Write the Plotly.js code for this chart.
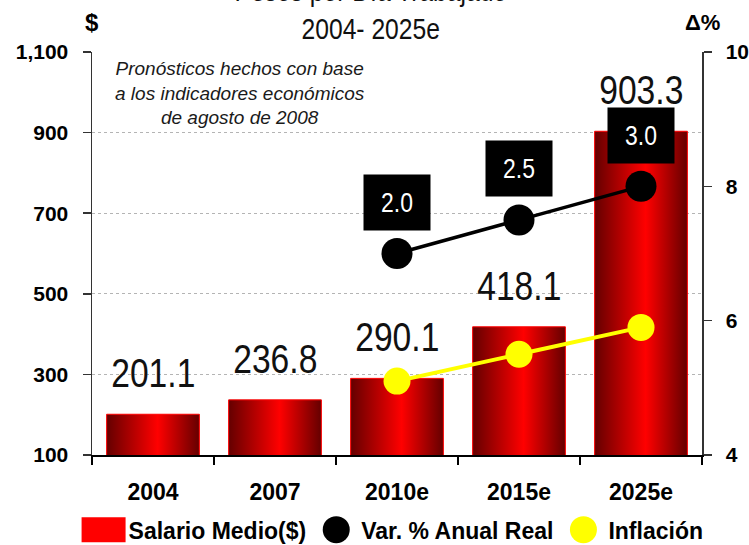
<!DOCTYPE html>
<html><head><meta charset="utf-8">
<script src="https://cdn.plot.ly/plotly-3.0.1.min.js"></script>
<style>html,body{margin:0;padding:0;background:#fff}#chart{width:749px;height:545px}</style>
</head><body><div id="chart"></div>
<script>
const categories = ['2004', '2007', '2010e', '2015e', '2025e'];
const salario = [201.1, 236.8, 290.1, 418.1, 903.3];
const salarioLabels = ['201.1', '236.8', '290.1', '418.1', '903.3'];
const varCats = ['2010e', '2015e', '2025e'];
const varPos = [7.0, 7.5, 8.0];
const varLabels = ['2.0', '2.5', '3.0'];
const inflCats = ['2010e', '2015e', '2025e'];
const inflacion = [5.1, 5.5, 5.9];
const leftTicks = [100, 300, 500, 700, 900, 1100];
const leftTickText = ['100', '300', '500', '700', '900', '1,100'];
const rightTicks = [4, 6, 8, 10];
const titleText = 'Pesos por Día Trabajado<br>2004- 2025e';
const noteText = 'Pronósticos hechos con base<br>a los indicadores económicos<br>de agosto de 2008';

const SANS = '"Liberation Sans", Arial, sans-serif';
const NARROW_SCALE = 0.82;

const traces = [
  {type: 'bar', name: 'Salario Medio($)', x: categories, y: salario, width: 0.76,
   marker: {color: '#ff0000', line: {color: '#ff0000', width: 1}}, hoverinfo: 'skip'},
  {type: 'scatter', mode: 'lines+markers', name: 'Var. % Anual Real', x: varCats, y: varPos, yaxis: 'y2',
   line: {color: '#000000', width: 3.5}, marker: {color: '#000000', size: 31}, cliponaxis: false},
  {type: 'scatter', mode: 'lines+markers', name: 'Inflación', x: inflCats, y: inflacion, yaxis: 'y2',
   line: {color: '#ffff00', width: 4}, marker: {color: '#ffff00', size: 27}, cliponaxis: false}
];

const annotations = [];
categories.forEach((c, i) => {
  annotations.push({x: i, y: salario[i], xref: 'x', yref: 'y', text: salarioLabels[i], showarrow: false,
    yanchor: 'bottom', yshift: 16, font: {family: SANS, size: 41, color: '#111111'}});
});
varCats.forEach((c, i) => {
  annotations.push({x: categories.indexOf(c), y: varPos[i], xref: 'x', yref: 'y2', text: varLabels[i], showarrow: false,
    yanchor: 'middle', yshift: 51, bgcolor: '#000000', width: 64, height: 53,
    font: {family: SANS, size: 28, color: '#ffffff'}});
});
annotations.push({x: 0.243, y: 1, xref: 'paper', yref: 'paper', text: noteText, showarrow: false,
  xanchor: 'center', yanchor: 'top', yshift: -4,
  font: {family: SANS, size: 19, color: '#1a1a1a', style: 'italic'}});
annotations.push({x: 0, y: 1, xref: 'paper', yref: 'paper', text: '<b>$</b>', showarrow: false,
  xanchor: 'center', yanchor: 'middle', yshift: 30, font: {family: SANS, size: 24, color: '#000'}});
annotations.push({x: 1, y: 1, xref: 'paper', yref: 'paper', text: '<b>Δ%</b>', showarrow: false,
  xanchor: 'center', yanchor: 'middle', yshift: 30, font: {family: SANS, size: 22, color: '#000'}});

const layout = {
  width: 749, height: 545,
  margin: {l: 92, r: 47, t: 52, b: 90, autoexpand: false},
  paper_bgcolor: '#ffffff', plot_bgcolor: '#ffffff',
  title: {text: titleText, x: 0.495, xanchor: 'center', yref: 'container', y: 1 - 1 / 545, yanchor: 'bottom',
    font: {family: SANS, size: 29, color: '#111111'}},
  showlegend: true,
  legend: {orientation: 'h', x: -0.022, xanchor: 'left', y: -0.132, yanchor: 'top', itemwidth: 40,
    font: {family: SANS, size: 23, color: '#000', weight: 'bold'}, traceorder: 'normal'},
  xaxis: {type: 'category', range: [-0.5, 4.5], showline: true, linecolor: '#000', linewidth: 1.5, ticks: 'outside',
    tickson: 'boundaries', ticklen: 8, tickcolor: '#000', tickwidth: 1.5, showgrid: false, ticklabelstandoff: 16,
    tickfont: {family: SANS, size: 23, color: '#000', weight: 'bold'}, fixedrange: true},
  yaxis: {range: [100, 1100], tickvals: leftTicks, ticktext: leftTickText, showline: true, linecolor: '#333',
    linewidth: 1.5, ticks: 'outside', ticklen: 8, tickcolor: '#333', tickwidth: 1.5, showgrid: true,
    gridcolor: '#b4b4b4', griddash: '3px,3px', gridwidth: 1, zeroline: false, ticklabelstandoff: 10,
    tickfont: {family: SANS, size: 21, color: '#000', weight: 'bold'}, fixedrange: true},
  yaxis2: {range: [4, 10], overlaying: 'y', side: 'right', tickvals: rightTicks, showline: true, linecolor: '#333',
    linewidth: 1.5, ticks: 'outside', ticklen: 8, tickcolor: '#333', tickwidth: 1.5, showgrid: false,
    zeroline: false, ticklabelstandoff: 10,
    tickfont: {family: SANS, size: 21, color: '#000', weight: 'bold'}, fixedrange: true},
  annotations: annotations
};

function narrowText(t, s) {
  const b = t.getBBox();
  const cx = b.x + b.width / 2;
  const old = t.getAttribute('transform') || '';
  t.setAttribute('transform', old + ' translate(' + cx + ',0) scale(' + s + ',1) translate(' + (-cx) + ',0)');
}

function decorate(gd) {
  const ns = 'http://www.w3.org/2000/svg';
  const svg = gd.querySelector('svg.main-svg');
  let defs = svg.querySelector('defs');
  if (!defs) { defs = document.createElementNS(ns, 'defs'); svg.insertBefore(defs, svg.firstChild); }
  if (!document.getElementById('barGrad')) {
    const lg = document.createElementNS(ns, 'linearGradient');
    lg.setAttribute('id', 'barGrad');
    lg.setAttribute('x1', '0'); lg.setAttribute('y1', '0'); lg.setAttribute('x2', '1'); lg.setAttribute('y2', '0');
    [[0, '#640000'], [0.55, '#ff0000'], [1, '#640000']].forEach(s => {
      const st = document.createElementNS(ns, 'stop');
      st.setAttribute('offset', s[0]); st.setAttribute('stop-color', s[1]);
      lg.appendChild(st);
    });
    defs.appendChild(lg);
  }
  gd.querySelectorAll('.barlayer .point path').forEach(p => { p.style.fill = 'url(#barGrad)'; });
  const legTraces = gd.querySelectorAll('.legend .traces');
  legTraces.forEach((g, idx) => {
    g.querySelectorAll('.legendlines path').forEach(p => { p.style.display = 'none'; });
    g.querySelectorAll('.legendpoints path').forEach(p => {
      if (idx === 0) {
        p.setAttribute('d', 'M22,12.5H-22V-12.5H22Z');
        p.style.fill = '#ff0000';
        p.style.stroke = 'none';
      } else {
        p.setAttribute('d', 'M13.5,0A13.5,13.5 0 1,1 0,-13.5A13.5,13.5 0 0,1 13.5,0Z');
      }
    });
  });
  const narrowSet = new Set(salarioLabels.concat(varLabels));
  gd.querySelectorAll('.annotation text.annotation-text').forEach(t => {
    if (narrowSet.has(t.textContent)) narrowText(t, NARROW_SCALE);
  });
  const tt = gd.querySelector('.gtitle');
  if (tt) narrowText(tt, 0.85);
}

Plotly.newPlot('chart', traces, layout, {displayModeBar: false, staticPlot: true}).then(decorate);
</script>
</body></html>
